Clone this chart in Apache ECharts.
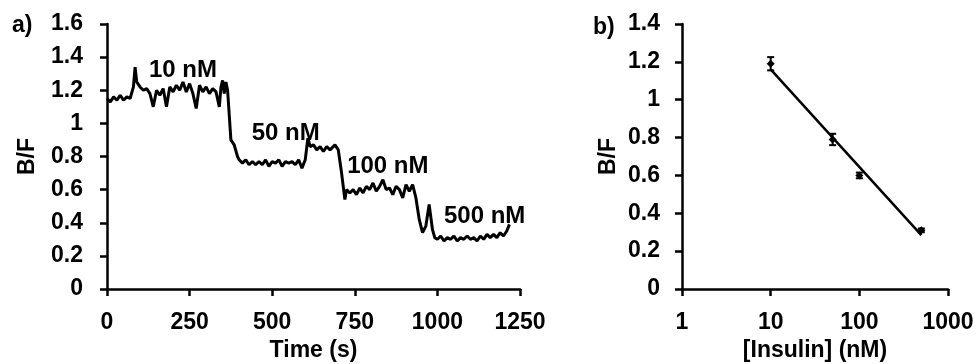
<!DOCTYPE html>
<html>
<head>
<meta charset="utf-8">
<script src="https://cdn.jsdelivr.net/npm/echarts@6/dist/echarts.min.js"></script>
<style>html,body{margin:0;padding:0;background:#fff;}#c{width:979px;height:364px;}</style>
</head>
<body>
<div id="c"></div>
<script>
// Panel a) time trace
var timeS = [0,10,20,30,40,50,60,70,80,85,90,100,110,120,130,140,150,160,170,180,190,200,210,220,230,240,250,260,270,280,290,300,310,320,330,340,345,350,355,360,365,375,385,395,400,410,420,430,440,450,460,470,480,490,500,510,520,530,540,550,560,570,580,590,600,608,615,625,635,645,655,665,675,690,700,710,720,725,735,745,755,765,775,785,795,805,815,825,835,845,855,865,875,885,895,905,915,925,935,945,955,965,975,985,992,1000,1010,1020,1030,1040,1050,1060,1070,1080,1090,1100,1110,1120,1130,1140,1150,1160,1170,1180,1190,1200,1210,1218];
var bfTrace = [1.15,1.13,1.16,1.14,1.17,1.14,1.16,1.15,1.22,1.34,1.25,1.22,1.20,1.21,1.18,1.10,1.20,1.17,1.21,1.10,1.22,1.19,1.23,1.20,1.25,1.19,1.24,1.18,1.09,1.23,1.19,1.22,1.18,1.21,1.19,1.10,1.22,1.26,1.18,1.25,1.20,0.90,0.87,0.80,0.78,0.76,0.78,0.75,0.77,0.75,0.77,0.75,0.78,0.74,0.77,0.76,0.78,0.74,0.77,0.76,0.77,0.75,0.78,0.73,0.78,0.91,0.86,0.87,0.84,0.86,0.83,0.86,0.84,0.87,0.84,0.70,0.54,0.60,0.58,0.60,0.57,0.61,0.58,0.62,0.60,0.64,0.59,0.62,0.66,0.60,0.61,0.57,0.62,0.60,0.55,0.63,0.59,0.63,0.55,0.42,0.34,0.38,0.51,0.36,0.31,0.30,0.32,0.29,0.31,0.30,0.32,0.29,0.31,0.30,0.32,0.30,0.31,0.29,0.32,0.30,0.33,0.31,0.33,0.31,0.34,0.32,0.35,0.39];
var concLabels = ['10 nM','50 nM','100 nM','500 nM'];
var labelTime = [230,541,850,1143];
var labelBF = [1.32,0.94,0.74,0.44];
var timeTicks = [0,250,500,750,1000,1250];

// Panel b) calibration
var insulinNM = [10,50,100,500];
var bfMean = [1.19,0.79,0.60,0.31];
var bfErr = [0.035,0.03,0.015,0.01];
var trendX = [10,500];
var trendY = [1.16,0.285];

var FONT = "'Liberation Sans', Arial, sans-serif";
var txt = {fontFamily: FONT, fontWeight: 'bold', fontSize: 23, color: '#000'};
function plain(v){ return String(v); }
function axisCommon(extra){
  var o = {
    axisLine:{show:true,onZero:false,lineStyle:{color:'#000',width:2.5}},
    axisTick:{show:true,inside:false,length:7,lineStyle:{color:'#000',width:2.5}},
    splitLine:{show:false},
    axisLabel:Object.assign({}, txt),
    nameTextStyle:Object.assign({}, txt)
  };
  return Object.assign(o, extra);
}

var chart = echarts.init(document.getElementById('c'), null, {renderer:'canvas'});
chart.setOption({
  animation:false,
  backgroundColor:'#fff',
  title:[
    {text:'a)', left:7, top:9, textStyle:Object.assign({}, txt)},
    {text:'b)', left:588, top:11, textStyle:Object.assign({}, txt)}
  ],
  grid:[
    {left:107, top:24, width:413, height:265, outerBoundsMode:'none', containLabel:false},
    {left:682, top:24, width:266, height:265, outerBoundsMode:'none', containLabel:false}
  ],
  xAxis:[
    axisCommon({gridIndex:0, type:'value', min:timeTicks[0], max:timeTicks[timeTicks.length-1], interval:250,
      name:'Time (s)', nameLocation:'middle', nameGap:50,
      axisLabel:Object.assign({}, txt, {margin:22, formatter:plain})}),
    axisCommon({gridIndex:1, type:'log', logBase:10, min:1, max:1000,
      name:'[Insulin] (nM)', nameLocation:'middle', nameGap:47,
      axisLabel:Object.assign({}, txt, {margin:22, formatter:plain})})
  ],
  yAxis:[
    axisCommon({gridIndex:0, type:'value', min:0, max:1.6, interval:0.2,
      name:'B/F', nameLocation:'middle', nameGap:68,
      axisLabel:Object.assign({}, txt, {margin:24})}),
    axisCommon({gridIndex:1, type:'value', min:0, max:1.4, interval:0.2,
      name:'B/F', nameLocation:'middle', nameGap:62,
      axisLabel:Object.assign({}, txt, {margin:22})})
  ],
  series:[
    {type:'line', xAxisIndex:0, yAxisIndex:0, showSymbol:false, symbol:'none',
      lineStyle:{color:'#000', width:3}, data: timeS.map(function(t,i){return [t,bfTrace[i]];})},
    {type:'scatter', xAxisIndex:0, yAxisIndex:0, symbolSize:0, itemStyle:{color:'#fff', opacity:1},
      label:{show:true, position:[0,0], align:'center', verticalAlign:'middle', formatter:function(p){return p.data[2];}, fontFamily:FONT, fontWeight:'bold', fontSize:24, color:'#000'},
      data: labelTime.map(function(t,i){return [t,labelBF[i],concLabels[i]];})},
    {type:'line', xAxisIndex:1, yAxisIndex:1, showSymbol:false, symbol:'none',
      lineStyle:{color:'#000', width:2.5}, data: trendX.map(function(x,i){return [x,trendY[i]];})},
    {type:'custom', xAxisIndex:1, yAxisIndex:1,
      renderItem:function(params, api){
        var x = api.value(0), y = api.value(1), e = api.value(2);
        var top = api.coord([x, y+e]), bot = api.coord([x, y-e]);
        var w = 3.5;
        return {type:'group', children:[
          {type:'line', shape:{x1:top[0],y1:top[1],x2:bot[0],y2:bot[1]}, style:{stroke:'#000',lineWidth:2}},
          {type:'line', shape:{x1:top[0]-w,y1:top[1],x2:top[0]+w,y2:top[1]}, style:{stroke:'#000',lineWidth:2}},
          {type:'line', shape:{x1:bot[0]-w,y1:bot[1],x2:bot[0]+w,y2:bot[1]}, style:{stroke:'#000',lineWidth:2}}
        ]};
      },
      data: insulinNM.map(function(x,i){return [x,bfMean[i],bfErr[i]];})},
    {type:'scatter', xAxisIndex:1, yAxisIndex:1, symbol:'diamond', symbolSize:8,
      itemStyle:{color:'#000', opacity:1}, data: insulinNM.map(function(x,i){return [x,bfMean[i]];})}
  ]
});
</script>
</body>
</html>
